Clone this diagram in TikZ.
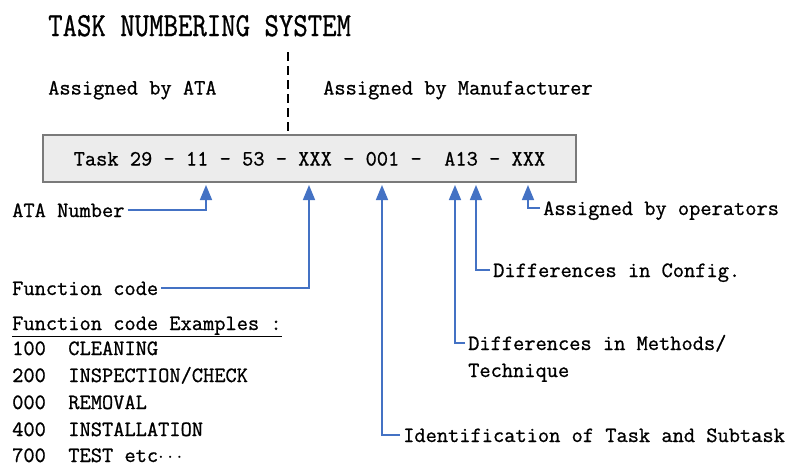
\documentclass[tikz,border=0pt]{standalone}
\usepackage{fontspec}
\usepackage{graphicx}
\usetikzlibrary{arrows.meta}
\newfontfamily\heavymono{Latin Modern Mono}[FakeBold=0.9]
\definecolor{arrblue}{HTML}{4472C4}
\definecolor{boxfill}{HTML}{ECECEC}
\definecolor{boxline}{HTML}{7A7A7A}
\begin{document}
\begin{tikzpicture}[x=1pt,y=-1pt,
  lbl/.style={font=\heavymono\fontsize{21.8}{26}\selectfont, inner xsep=3pt, inner ysep=0pt,
              text height=14pt, text depth=0pt, anchor=base west},
  ttl/.style={font=\heavymono\fontsize{28}{32}\selectfont, inner sep=0pt, anchor=base west},
  codebox/.style={draw=boxline, line width=1.5pt, fill=boxfill, minimum width=533pt,
              minimum height=47pt, inner sep=0pt, text height=14pt, text depth=0pt,
              font=\heavymono\fontsize{21.8}{26}\selectfont},
  arr/.style={color=arrblue, line width=1.6pt, -{Triangle[width=12pt,length=15pt]}},
  divider/.style={draw=black, line width=1.6pt, dash pattern=on 9pt off 5pt}]
\useasboundingbox (0,0) rectangle (796,466);
\fill[white] (0,0) rectangle (796,466);

% title and headings
\node[ttl] (title) at (48,36) {\scalebox{1}[1.2]{TASK NUMBERING SYSTEM}};
\node[lbl] (ata) at (45,94.5) {Assigned by ATA};
\node[lbl] (mfr) at (320,94.5) {Assigned by Manufacturer};

% code box
\node[codebox] (box) at (309.5,158.5) {Task 29 - 11 - 53 - XXX - 001 -\ \ A13 - XXX};

% divider
\coordinate (dtop) at (288,52);
\draw[divider] (dtop) -- (dtop |- box.north);

% arrow tips
\coordinate (t1) at (206,185);
\coordinate (t2) at (309,185);
\coordinate (t3) at (382,185);
\coordinate (t4) at (455,185);
\coordinate (t5) at (476,185);
\coordinate (t6) at (528,185);

% labels
\node[lbl] (atan) at (9,217) {ATA Number};
\node[lbl] (fc) at (9,295) {Function code};
\node[lbl] (opr) at (540,215) {Assigned by operators};
\node[lbl] (cfg) at (490,277) {Differences in Config.};
\node[lbl] (mth) at (465,350) {Differences in Methods/};
\node[lbl] (tech) at (465,377) {Technique};
\node[lbl] (idt) at (400,442) {Identification of Task and Subtask};

% connectors
\draw[arr] (atan.east) -| (t1);
\draw[arr] (fc.east) -| (t2);
\draw[arr] (idt.west) -| (t3);
\draw[arr] (mth.west) -| (t4);
\draw[arr] (cfg.west) -| (t5);
\draw[arr] (opr.west) -| (t6);

% examples
\node[lbl] (fce) at (9,330) {\underline{Function code Examples :}};
\node[lbl] (ex1) at (9,355) {100\ \ CLEANING};
\node[lbl] (ex2) at (9,382) {200\ \ INSPECTION/CHECK};
\node[lbl] (ex3) at (9,409) {000\ \ REMOVAL};
\node[lbl] (ex4) at (9,436) {400\ \ INSTALLATION};
\node[lbl] (ex5) at (9,462) {700\ \ TEST etc$\cdots$};
\end{tikzpicture}
\end{document}
